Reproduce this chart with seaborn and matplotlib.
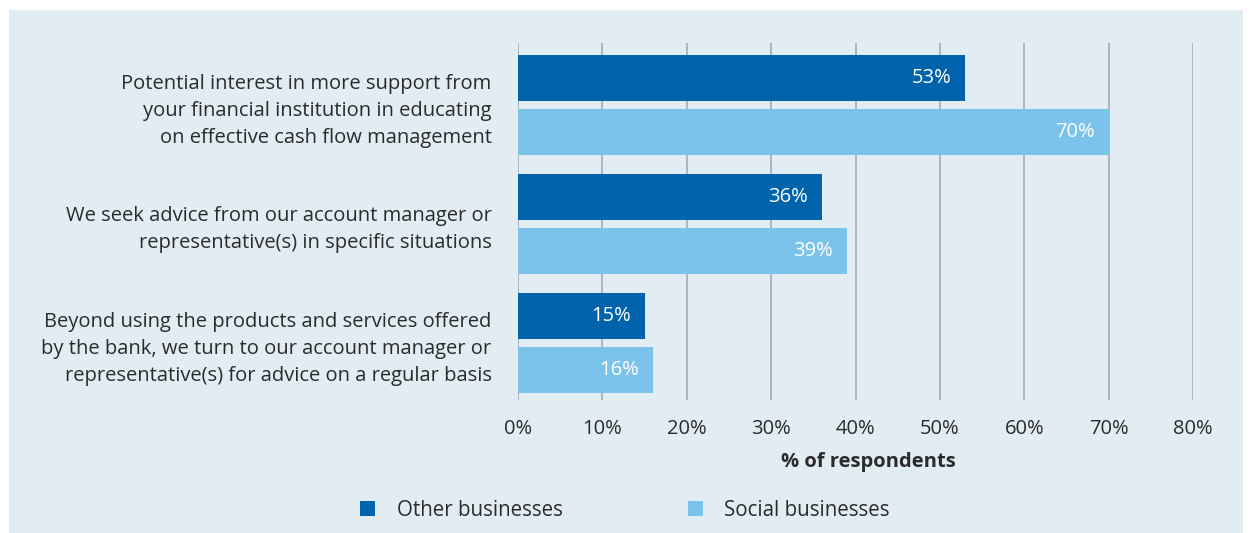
import matplotlib
matplotlib.use("Agg")
import matplotlib.pyplot as plt
from matplotlib.patches import Rectangle, Patch
from matplotlib.transforms import offset_copy
import pandas as pd
import seaborn as sns

# Survey items (y categories), series names and their percentages
categories = [
    "Potential interest in more support from\nyour financial institution in educating\non effective cash flow management",
    "We seek advice from our account manager or\nrepresentative(s) in specific situations",
    "Beyond using the products and services offered\nby the bank, we turn to our account manager or\nrepresentative(s) for advice on a regular basis",
]
series = ["Other businesses", "Social businesses"]
other_values = [53, 36, 15]
social_values = [70, 39, 16]
x_ticks = [0, 10, 20, 30, 40, 50, 60, 70, 80]
x_tick_labels = [f"{t}%" for t in x_ticks]
x_title = "% of respondents"

colors = {"Other businesses": "#0063ab", "Social businesses": "#7cc3eb"}
panel_bg = "#e1ecf3"
text_color = "#2b2b2b"
grid_color = "#a9b2bb"

sns.set_style("white")
plt.rcParams["font.family"] = ["Open Sans", "DejaVu Sans"]
FS = 14.5

df = pd.DataFrame({
    "item": categories * 2,
    "group": [series[0]] * 3 + [series[1]] * 3,
    "value": other_values + social_values,
})

W, H = 1249, 533
fig = plt.figure(figsize=(W / 100, H / 100), dpi=100, facecolor="white")

# light blue panel behind the whole chart
fig.patches.append(Rectangle((9 / W, 0), (1243 - 9) / W, (H - 10) / H,
                             transform=fig.transFigure, facecolor=panel_bg,
                             edgecolor="none", zorder=-10))

ax = fig.add_axes([518 / W, 1 - 400 / H, (1193 - 518) / W, (400 - 43) / H])
ax.set_facecolor("none")

sns.barplot(data=df, y="item", x="value", hue="group", orient="h",
            palette=colors, order=categories, hue_order=series,
            width=0.908, gap=0.148, ax=ax, legend=False, zorder=3,
            saturation=1, linewidth=0, edgecolor="none")

# value labels, right-aligned just inside the end of each bar
for container in ax.containers:
    for bar, v in zip(container.patches, container.datavalues):
        trans = offset_copy(ax.transData, fig=fig, x=-14, y=0, units="dots")
        ax.text(bar.get_width(), bar.get_y() + bar.get_height() / 2,
                f"{v:.0f}%", transform=trans, ha="right", va="center",
                color="white", fontsize=FS, zorder=4)

ax.set_xlim(0, 80)
ax.set_ylim(2.48, -0.52)
ax.set_xticks(x_ticks)
ax.set_xticklabels(x_tick_labels)
ax.xaxis.grid(True, color=grid_color, linewidth=1.3, zorder=0)
ax.yaxis.grid(False)
for s in ax.spines.values():
    s.set_visible(False)
ax.tick_params(axis="x", length=0, pad=14, labelsize=FS, labelcolor=text_color)
ax.tick_params(axis="y", length=0, pad=19, labelsize=FS, labelcolor=text_color)
for lbl in ax.get_yticklabels():
    lbl.set_multialignment("right")
    lbl.set_linespacing(1.47)

ax.set_ylabel("")
ax.set_xlabel(x_title, fontsize=FS, fontweight="bold", color=text_color)
ax.xaxis.set_label_coords((868 - 518) / (1193 - 518), -(462 - 400) / (400 - 43))
ax.xaxis.label.set_va("center")

handles = [Patch(facecolor=colors[s], edgecolor="none") for s in series]
fig.legend(handles, series, loc="center", bbox_to_anchor=(625 / W, 1 - 510 / H),
           ncol=2, frameon=False, fontsize=14.8, labelcolor=text_color,
           handlelength=0.72, handleheight=0.72, handletextpad=1.05,
           columnspacing=6.1)

fig.savefig("out.png", dpi=100, facecolor="white")
